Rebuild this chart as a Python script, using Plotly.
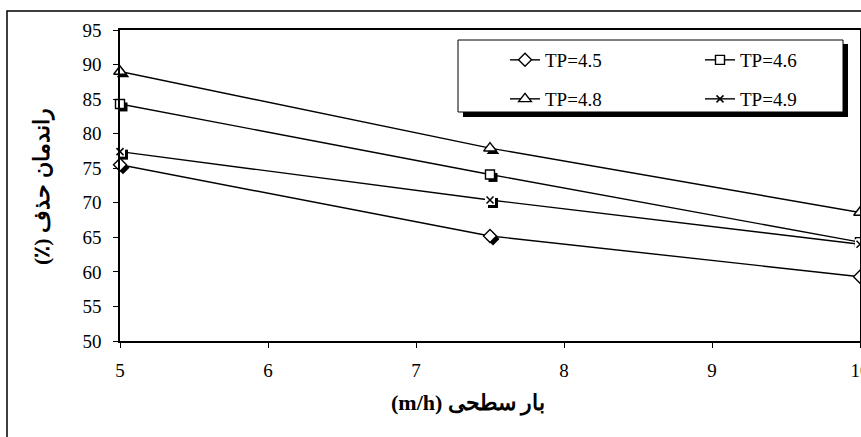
import plotly.graph_objects as go

# ---- data ----
surface_load = [5, 7.5, 10]          # m/h
tp45 = [75.5, 65.2, 59.3]
tp46 = [84.3, 74.1, 64.3]
tp48 = [89.0, 77.9, 68.6]
tp49 = [77.4, 70.4, 64.0]
x_ticks = [5, 6, 7, 8, 9, 10]
y_ticks = [50, 55, 60, 65, 70, 75, 80, 85, 90, 95]
series_names = ["TP=4.5", "TP=4.6", "TP=4.8", "TP=4.9"]

W, H = 861, 437
L, R, T, B = 120, 860, 30, 341          # plot area in pixels
XR = [5, 10]
YR = [50, 95]
px_x = (R - L) / (XR[1] - XR[0])
px_y = (B - T) / (YR[1] - YR[0])
sh = 3  # shadow offset in px

def px2paper_x(p):
    return (p - L) / (R - L)

def px2paper_y(p):
    return 1 - (p - T) / (B - T)

BLACK = "black"
FONT = "Liberation Serif, Times New Roman, serif"

fig = go.Figure()

# shadows (on hidden, shifted axes x/y -> drawn beneath main layer)
shadow_specs = [(tp45, "diamond", 10), (tp46, "square", 9), (tp48, "triangle-up", 11), (tp49, "square", 10)]
for vals, sym, sz in shadow_specs:
    fig.add_trace(go.Scatter(x=surface_load, y=vals, mode="markers", xaxis="x", yaxis="y",
                             marker=dict(symbol=sym, size=sz, color=BLACK, line=dict(width=0)),
                             showlegend=False, hoverinfo="skip", cliponaxis=False))

# main series on visible axes x2/y2
main_specs = [(tp45, "diamond", 10, "legend"), (tp46, "square", 9, "legend2"), (tp48, "triangle-up", 11, "legend3")]
for (vals, sym, sz, lg), name in zip(main_specs, series_names[:3]):
    fig.add_trace(go.Scatter(x=surface_load, y=vals, mode="lines+markers", name=name,
                             xaxis="x2", yaxis="y2", legend=lg,
                             line=dict(color=BLACK, width=1.4),
                             marker=dict(symbol=sym, size=sz, color="white", line=dict(color=BLACK, width=1.4)),
                             cliponaxis=False))

# TP=4.9: line, white mask, x marker, legend entry
fig.add_trace(go.Scatter(x=surface_load, y=tp49, mode="lines", xaxis="x2", yaxis="y2",
                         line=dict(color=BLACK, width=1.4), showlegend=False, cliponaxis=False))
fig.add_trace(go.Scatter(x=surface_load, y=tp49, mode="markers", xaxis="x2", yaxis="y2",
                         marker=dict(symbol="square", size=10, color="white", line=dict(width=0)),
                         showlegend=False, hoverinfo="skip", cliponaxis=False))
fig.add_trace(go.Scatter(x=surface_load, y=tp49, mode="markers", xaxis="x2", yaxis="y2",
                         marker=dict(symbol="x-thin-open", size=7, color=BLACK, line=dict(color=BLACK, width=1.5)),
                         showlegend=False, cliponaxis=False))
fig.add_trace(go.Scatter(x=[None], y=[None], mode="lines+markers", name=series_names[3],
                         xaxis="x2", yaxis="y2", legend="legend4",
                         line=dict(color=BLACK, width=1.4),
                         marker=dict(symbol="x-thin-open", size=7, color=BLACK, line=dict(color=BLACK, width=1.5))))

hidden_x = dict(range=[XR[0] - sh / px_x, XR[1] - sh / px_x], visible=False, fixedrange=True, automargin=False)
hidden_y = dict(range=[YR[0] + sh / px_y, YR[1] + sh / px_y], visible=False, fixedrange=True, automargin=False)

tickfont = dict(family=FONT, size=19, color=BLACK)

legend_common = dict(bgcolor="rgba(0,0,0,0)", borderwidth=0, xanchor="left", yanchor="middle",
                     font=dict(family=FONT, size=19, color=BLACK), itemwidth=30)
row1, row2 = px2paper_y(60), px2paper_y(99)
col1, col2 = px2paper_x(505), px2paper_x(700)

fig.update_layout(
    width=W, height=H,
    margin=dict(l=L, r=W - R, t=T, b=H - B, pad=0, autoexpand=False),
    paper_bgcolor="white", plot_bgcolor="white",
    xaxis=hidden_x, yaxis=hidden_y,
    xaxis2=dict(range=XR, overlaying="x", anchor="y2", side="bottom",
                tickvals=x_ticks, ticks="outside", ticklen=5, tickwidth=1.3, tickcolor=BLACK,
                showline=True, linecolor=BLACK, linewidth=1.5, mirror=True,
                showgrid=False, zeroline=False, tickfont=tickfont, ticklabelstandoff=6,
                ticklabeloverflow="allow", automargin=False, fixedrange=True),
    yaxis2=dict(range=YR, overlaying="y", anchor="x2", side="left",
                tickvals=y_ticks, ticks="outside", ticklen=5, tickwidth=1.3, tickcolor=BLACK,
                showline=True, linecolor=BLACK, linewidth=1.5, mirror=True,
                showgrid=False, zeroline=False, tickfont=tickfont, ticklabelstandoff=8,
                automargin=False, fixedrange=True),
    legend=dict(x=col1, y=row1, **legend_common),
    legend2=dict(x=col2, y=row1, **legend_common),
    legend3=dict(x=col1, y=row2, **legend_common),
    legend4=dict(x=col2, y=row2, **legend_common),
    showlegend=True,
)

# chart-area outer border (continues beyond the window on right/bottom)
fig.add_shape(type="rect", xref="paper", yref="paper",
              x0=px2paper_x(7), x1=1.2, y0=-0.6, y1=px2paper_y(11),
              line=dict(color=BLACK, width=1.5), fillcolor="rgba(0,0,0,0)", layer="above")
# legend box with shadow
fig.add_shape(type="rect", xref="paper", yref="paper",
              x0=px2paper_x(463), x1=px2paper_x(848), y0=px2paper_y(117), y1=px2paper_y(44),
              line=dict(width=0), fillcolor=BLACK, layer="above")
fig.add_shape(type="rect", xref="paper", yref="paper",
              x0=px2paper_x(458), x1=px2paper_x(843), y0=px2paper_y(112), y1=px2paper_y(40),
              line=dict(color=BLACK, width=1), fillcolor="white", layer="above")

# axis titles (Persian)
fig.add_annotation(text="<b>(m/h) بار سطحی</b>", xref="paper", yref="paper",
                   x=px2paper_x(468), y=px2paper_y(403), xanchor="center", yanchor="middle",
                   showarrow=False, font=dict(family=FONT, size=22, color=BLACK))
fig.add_annotation(text="<b>(٪) راندمان حذف</b>", xref="paper", yref="paper",
                   x=px2paper_x(42), y=px2paper_y(187), xanchor="center", yanchor="middle",
                   textangle=-90, showarrow=False, font=dict(family=FONT, size=22, color=BLACK))

fig.write_html("out.html", config={"displayModeBar": False},
               post_script="document.body.style.margin='0';document.body.style.overflow='hidden';")
